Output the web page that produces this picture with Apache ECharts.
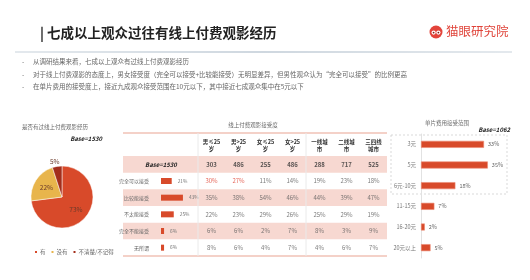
<!DOCTYPE html>
<html><head><meta charset="utf-8">
<script src="https://cdn.jsdelivr.net/npm/echarts@6/dist/echarts.min.js"></script>
<style>html,body{margin:0;padding:0;background:#fff}#c{width:530px;height:280px}</style>
</head><body><div id="c"></div>
<script>
// ---------- data ----------
const pieCategories = ['有', '没有', '不清楚/不记得'];
const pieValues = [73, 22, 5];
const pieBase = 'Base=1530';
const acceptRows = ['完全可以接受', '比较能接受', '不太能接受', '完全不能接受', '无所谓'];
const acceptTotal = [21, 43, 25, 6, 6];
const tableBase = 'Base=1530';
const segmentCols = ['男≤25\n岁', '男>25\n岁', '女≤25\n岁', '女>25\n岁', '一线城\n市', '二线城\n市', '三四线\n城市'];
const segmentBase = [303, 486, 255, 486, 288, 717, 525];
const rowFullyAccept = [30, 27, 11, 14, 19, 23, 18];
const rowFairlyAccept = [35, 38, 54, 46, 44, 39, 47];
const rowHardlyAccept = [22, 23, 29, 26, 25, 29, 19];
const rowNotAccept = [6, 6, 2, 7, 8, 3, 9];
const rowIndifferent = [8, 6, 4, 7, 4, 6, 7];
const highlightCells = [[0, 0], [1, 0]]; // [column, row] shown in red
const priceCategories = ['3元', '5元', '6元-10元', '11-15元', '16-20元', '20元以上'];
const priceValues = [33, 35, 18, 7, 2, 5];
const priceBase = 'Base=1062';
const bullets = [
  '从调研结果来看，七成以上观众有过线上付费观影经历',
  '对于线上付费观影的态度上，男女接受度（完全可以接受+比较能接受）无明显差异，但男性观众认为“完全可以接受”的比例更高',
  '在单片费用的接受度上，接近九成观众接受范围在10元以下，其中接近七成观众集中在5元以下'
];

// ---------- build ----------
const FONT = '"Noto Sans CJK SC", "Noto Sans", sans-serif';
const RED = '#D84A2A';
const PIE_COLORS = ['#D84A2A', '#E8B54C', '#A32E1B'];
const PINK = '#F7D8D1';
const tableRows = [rowFullyAccept, rowFairlyAccept, rowHardlyAccept, rowNotAccept, rowIndifferent];
const rowCats = ['base'].concat(acceptRows);

const cellData = [];
segmentBase.forEach((v, c) => {
  cellData.push({ value: [c, 0], name: String(v), label: { fontWeight: 'bold', color: '#333' } });
});
tableRows.forEach((row, r) => {
  row.forEach((v, c) => {
    const hi = highlightCells.some(h => h[0] === c && h[1] === r);
    cellData.push({ value: [c, r + 1], name: v + '%', label: { color: hi ? '#E0402F' : '#5a5a5a' } });
  });
});

const graphic = [
  { type: 'text', left: 40, top: 26, style: { text: '| 七成以上观众过往有线上付费观影经历', font: 'bold 13.5px ' + FONT, fill: '#222' } },
  { type: 'circle', shape: { cx: 436, cy: 32, r: 6.5 }, style: { fill: '#E3443B' } },
  { type: 'circle', shape: { cx: 433.6, cy: 32.6, r: 2.1 }, style: { fill: '#fff' } },
  { type: 'circle', shape: { cx: 438.4, cy: 32.6, r: 2.1 }, style: { fill: '#fff' } },
  { type: 'circle', shape: { cx: 433.6, cy: 32.6, r: 0.9 }, style: { fill: '#7a1c14' } },
  { type: 'circle', shape: { cx: 438.4, cy: 32.6, r: 0.9 }, style: { fill: '#7a1c14' } },
  { type: 'text', left: 446, top: 25, style: { text: '猫眼研究院', font: '12.5px ' + FONT, fill: '#E0443A' } },
  { type: 'line', shape: { x1: 15, y1: 52, x2: 512, y2: 52 }, style: { lineWidth: 1.2,
    stroke: new echarts.graphic.LinearGradient(0, 0, 1, 0, [{ offset: 0, color: '#C9D3DC' }, { offset: 0.5, color: '#9FB0C0' }, { offset: 1, color: '#C9D3DC' }]) } },
  // pie titles
  { type: 'text', x: 55, y: 127, style: { text: '是否有过线上付费观影经历', font: '5.5px ' + FONT, fill: '#666', align: 'center', verticalAlign: 'middle' } },
  { type: 'text', x: 102, y: 139, style: { text: pieBase, font: 'italic bold 6px ' + FONT, fill: '#222', align: 'right', verticalAlign: 'middle' } },
  // table
  { type: 'text', x: 253, y: 125, style: { text: '线上付费观影接受度', font: '5.5px ' + FONT, fill: '#666', align: 'center', verticalAlign: 'middle' } },
  { type: 'text', x: 161, y: 165, z: 10, style: { text: tableBase, font: 'italic bold 6px ' + FONT, fill: '#222', align: 'center', verticalAlign: 'middle' } },
  { type: 'line', z: 5, shape: { x1: 123, y1: 133, x2: 387, y2: 133 }, style: { stroke: '#F0C2B6', lineWidth: 1.5 } },
  { type: 'line', z: 5, shape: { x1: 123, y1: 256, x2: 387, y2: 256 }, style: { stroke: '#F0C2B6', lineWidth: 1.5 } },
  { type: 'line', z: 5, shape: { x1: 198, y1: 133, x2: 198, y2: 256 }, style: { stroke: '#EAEAEA', lineWidth: 1 } },
  { type: 'line', z: 5, shape: { x1: 306, y1: 133, x2: 306, y2: 256 }, style: { stroke: '#EAEAEA', lineWidth: 1 } },
  // price chart
  { type: 'text', x: 447, y: 123, style: { text: '单片费用接受范围', font: '5.5px ' + FONT, fill: '#666', align: 'center', verticalAlign: 'middle' } },
  { type: 'text', x: 510, y: 130, style: { text: priceBase, font: 'italic bold 6px ' + FONT, fill: '#222', align: 'right', verticalAlign: 'middle' } },
  { type: 'rect', shape: { x: 391, y: 135, width: 116, height: 59 }, style: { fill: 'none', stroke: '#CFCFCF', lineWidth: 0.8, lineDash: [2, 2] } }
];
bullets.forEach((t, i) => {
  graphic.push({ type: 'text', x: 22, y: 62 + i * 12.5, style: { text: '-', font: '6.5px ' + FONT, fill: '#777', verticalAlign: 'middle' } });
  graphic.push({ type: 'text', x: 33, y: 62 + i * 12.5, style: { text: t, font: '6.5px ' + FONT, fill: '#666', verticalAlign: 'middle' } });
});

const option = {
  backgroundColor: '#fff',
  animation: false,
  textStyle: { fontFamily: FONT },
  color: PIE_COLORS,
  legend: {
    data: pieCategories, left: 28, top: 244, itemWidth: 4, itemHeight: 4, itemGap: 4,
    icon: 'rect', textStyle: { fontSize: 5.5, color: '#666', padding: [0, 0, 0, -3] }
  },
  grid: [
    { left: 123, top: 156, width: 264, height: 100 },
    { left: 161, top: 156, width: 51, height: 100 },
    { left: 198, top: 156, width: 189, height: 100 },
    { left: 421, top: 134, width: 95.5, height: 124 }
  ],
  xAxis: [
    { gridIndex: 0, type: 'value', min: 0, max: 1, show: false },
    { gridIndex: 1, type: 'value', min: 0, max: 100, show: false },
    { gridIndex: 2, type: 'category', data: segmentCols, position: 'top',
      axisLine: { show: false }, axisTick: { show: false },
      axisLabel: { fontSize: 5.5, fontWeight: 'bold', color: '#333', lineHeight: 7, margin: 4 } },
    { gridIndex: 3, type: 'value', min: 0, max: 50, show: false }
  ],
  yAxis: [
    { gridIndex: 0, type: 'category', data: rowCats, inverse: true,
      axisLine: { show: false }, axisTick: { show: false }, axisLabel: { show: false },
      splitArea: { show: true, areaStyle: { color: [PINK, 'rgba(255,255,255,0)'] } } },
    { gridIndex: 1, type: 'category', data: [''].concat(acceptRows), inverse: true,
      axisLine: { show: false }, axisTick: { show: false },
      axisLabel: { fontSize: 5, color: '#666', margin: 12 } },
    { gridIndex: 2, type: 'category', data: rowCats, inverse: true, show: false },
    { gridIndex: 3, type: 'category', data: priceCategories, inverse: true,
      axisLine: { show: true, lineStyle: { color: '#E2E2E2' } }, axisTick: { show: false },
      axisLabel: { fontSize: 5.5, color: '#777', margin: 5 } }
  ],
  series: [
    {
      type: 'pie', center: [62, 197], radius: 31, startAngle: 90,
      data: pieCategories.map((n, i) => ({ name: n, value: pieValues[i],
        itemStyle: { color: PIE_COLORS[i] },
        label: i === 2 ? { position: 'outside' } : { position: 'inside' } })),
      itemStyle: { borderColor: '#fff', borderWidth: 0.5 },
      label: { formatter: '{c}%', fontSize: 6.5, color: '#6b3a2a' },
      labelLine: { show: false, length: 3, length2: 0 },
      labelLayout: p => p.dataIndex === 2 ? { align: 'center', dx: 3, dy: -2 } : {}
    },
    {
      type: 'bar', xAxisIndex: 1, yAxisIndex: 1, barWidth: 6,
      data: ['-'].concat(acceptTotal),
      itemStyle: { color: RED },
      label: { show: true, position: 'right', distance: 6, formatter: '{c}%', fontSize: 4.8, color: '#777' }
    },
    {
      type: 'scatter', xAxisIndex: 2, yAxisIndex: 2, symbolSize: 0,
      data: cellData,
      label: { show: true, position: 'inside', formatter: p => p.name, fontSize: 6 }
    },
    {
      type: 'bar', xAxisIndex: 3, yAxisIndex: 3, barWidth: 7,
      data: priceValues,
      itemStyle: { color: RED, borderColor: '#EC8A72', borderWidth: 0.6 },
      label: { show: true, position: 'right', distance: 4, formatter: '{c}%', fontSize: 5.5, color: '#666' }
    }
  ],
  graphic: graphic
};
const chart = echarts.init(document.getElementById('c'), null, { renderer: 'canvas' });
chart.setOption(option);
</script></body></html>
